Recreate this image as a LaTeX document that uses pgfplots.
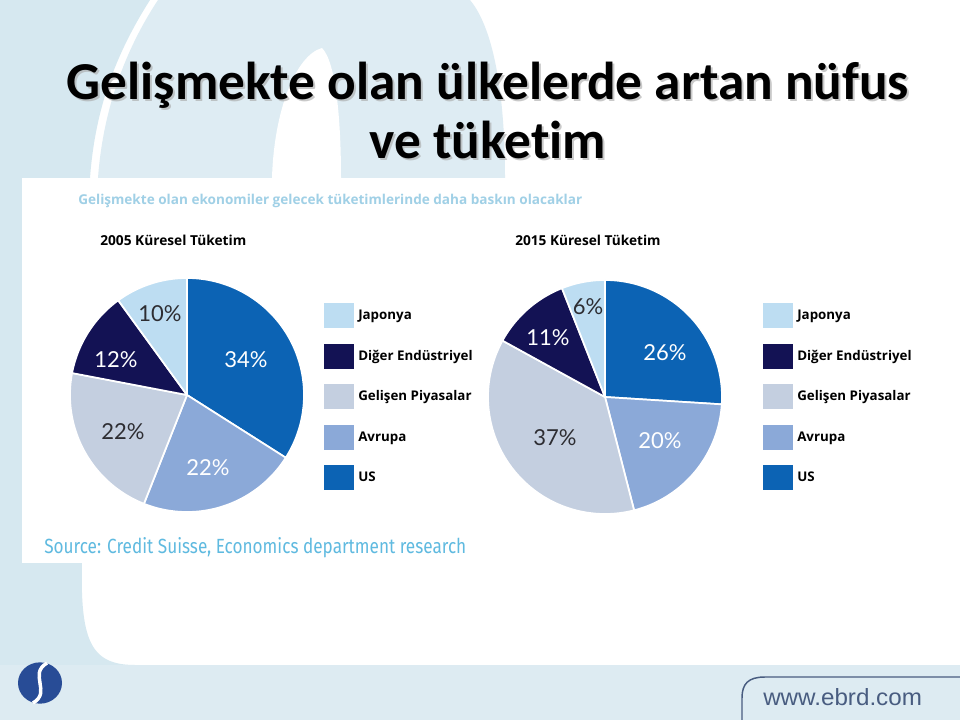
\documentclass[border=0pt]{standalone}
\usepackage{fontspec}
\setmainfont{Carlito}[Ligatures=NoCommon]
\newfontfamily\lato{Lato}
\newfontfamily\osans{Open Sans}
\newfontfamily\arialf{Liberation Sans}
\newfontfamily\fira{Fira Sans}
\usepackage{graphicx}
\usepackage{pgfplots}
\usepackage{pgfplotstable}
\pgfplotsset{compat=1.18}

\definecolor{cUS}{RGB}{12,99,180}
\definecolor{cAV}{RGB}{139,169,216}
\definecolor{cGP}{RGB}{196,207,224}
\definecolor{cDE}{RGB}{19,18,84}
\definecolor{cJP}{RGB}{189,221,242}
\definecolor{bgA}{RGB}{214,232,240}
\definecolor{bgB}{RGB}{222,236,243}
\definecolor{band}{RGB}{221,235,242}
\definecolor{hdr}{RGB}{160,208,230}
\definecolor{src}{RGB}{95,186,224}
\definecolor{url}{RGB}{72,92,128}
\definecolor{logo}{RGB}{40,76,150}
\definecolor{lbl}{RGB}{45,45,50}

% 2005 global consumption shares (%), clockwise from 12 o'clock
\pgfplotstableread{
name val col
US 34 cUS
Avrupa 22 cAV
Gelisen 22 cGP
Diger 12 cDE
Japonya 10 cJP
}\tabA
% 2015 global consumption shares (%)
\pgfplotstableread{
name val col
US 26 cUS
Avrupa 20 cAV
Gelisen 37 cGP
Diger 11 cDE
Japonya 6 cJP
}\tabB

\newcommand\drawpie[4]{%
  \def\cum{0}%
  \pgfplotsforeachungrouped \i in {0,...,4}{%
    \pgfplotstablegetelem{\i}{val}\of{#1}\let\pval\pgfplotsretval
    \pgfplotstablegetelem{\i}{col}\of{#1}\let\pcol\pgfplotsretval
    \pgfmathsetmacro\pa{\cum*3.6}%
    \pgfmathsetmacro\cum{\cum+\pval}%
    \pgfmathsetmacro\pb{\cum*3.6}%
    \edef\doplot{\noexpand\addplot[fill=\pcol, draw=white, line width=1.3pt, line join=round, domain=\pa:\pb, samples=90, variable=\noexpand\t] ({#2+#4*sin(\noexpand\t)},{#3-#4*cos(\noexpand\t)}) -- (axis cs:#2,#3) -- cycle;}%
    \doplot
  }%
}

\pgfplotsset{
  slide/.style={
    width=720pt, height=540pt, scale only axis,
    xmin=0, xmax=960, ymin=0, ymax=720, y dir=reverse,
    hide axis, at={(0,0)}, anchor=south west,
    reverse legend,
    legend cell align=left,
    legend image code/.code={\fill[##1,draw=none] (0pt,-9.4pt) rectangle (22.5pt,9.4pt);},
    legend style={draw=none, fill=none, inner sep=0pt, row sep=11.6pt, column sep=3pt,
      font=\osans\bfseries\fontsize{10}{12}\selectfont, text=black,
      nodes={inner sep=0pt}},
  },
}

\begin{document}
\begin{tikzpicture}
\useasboundingbox (0,0) rectangle (720pt,540pt);
\clip (0,0) rectangle (720pt,540pt);
\begin{axis}[slide,
  legend style={at={(axis description cs:0.3375,0.5792)}, anchor=north west}]
  % background
  \fill[white] (0,0) rectangle (960,720);
  \fill[bgA] (0,0) -- (150,0) .. controls (115,55) and (95,110) .. (90,178) -- (82,560) .. controls (80,640) and (90,665) .. (135,665) -- (0,665) -- cycle;
  \fill[bgB] (158,0) -- (470,0) .. controls (495,30) and (505,100) .. (505,178) -- (98,178) .. controls (103,110) and (125,50) .. (158,0) -- cycle;
  \fill[white] (272,178) .. controls (274,110) and (296,55) .. (322,48) .. controls (336,62) and (341,120) .. (341,178) -- cycle;
  \fill[white] (22,178) rectangle (960,563);
  \fill[band] (0,665) rectangle (960,720);
  % logo
  \fill[logo] (40,683) ellipse [x radius=16.5pt, y radius=15.5pt];
  \draw[white, line width=2.6pt] (47,663) .. controls (28,674) and (52,692) .. (33,703);
  % url frame
  \draw[url, line width=1.1pt] (742,722) -- (742,698) .. controls (742,684) and (748,677) .. (765,677) -- (962,677);
  \node[anchor=base west, inner sep=0pt] at (763,705) {\resizebox{119pt}{12.75pt}{\arialf\color{url}www.ebrd.com}};
  % title with shadow
  \node[anchor=base, inner sep=0pt, text=gray!70, opacity=0.6, font=\bfseries\fontsize{40}{48}\selectfont] at (490,102) {Gelişmekte olan ülkelerde artan nüfus};
  \node[anchor=base, inner sep=0pt, text=gray!70, opacity=0.6, font=\bfseries\fontsize{40}{48}\selectfont] at (490,161) {ve tüketim};
  \node[anchor=base, inner sep=0pt, text=black, font=\bfseries\fontsize{40}{48}\selectfont] at (488,100) {Gelişmekte olan ülkelerde artan nüfus};
  \node[anchor=base, inner sep=0pt, text=black, font=\bfseries\fontsize{40}{48}\selectfont] at (488,159) {ve tüketim};
  % chart texts
  \node[anchor=base west, inner sep=0pt] at (78,205) {\resizebox{378pt}{!}{\osans\bfseries\color{hdr}Gelişmekte olan ekonomiler gelecek tüketimlerinde daha baskın olacaklar}};
  \node[anchor=base west, inner sep=0pt] at (100,246) {\resizebox{109.5pt}{!}{\osans\bfseries 2005 Küresel Tüketim}};
  \node[anchor=base west, inner sep=0pt] at (515,246) {\resizebox{109pt}{!}{\osans\bfseries 2015 Küresel Tüketim}};
  \node[anchor=base west, inner sep=0pt] at (44,553) {\resizebox{316.5pt}{12pt}{\fira\color{src}Source: Credit Suisse, Economics department research}};
  % pie 2005
  \drawpie{\tabA}{187}{395}{117}
  \legend{US,Avrupa,Gelişen Piyasalar,Diğer Endüstriyel,Japonya}
  \begin{scope}[font=\lato\fontsize{16.5}{18}\selectfont]
  \node[text=lbl] at (160,314) {10\%};
  \node[text=white] at (116,360) {12\%};
  \node[text=white] at (246,360) {34\%};
  \node[text=lbl] at (123,432) {22\%};
  \node[text=white] at (208,468) {22\%};
  \end{scope}
\end{axis}
\begin{axis}[slide,
  legend style={at={(axis description cs:0.7948,0.5792)}, anchor=north west}]
  \drawpie{\tabB}{605}{397}{117}
  \legend{US,Avrupa,Gelişen Piyasalar,Diğer Endüstriyel,Japonya}
  \begin{scope}[font=\lato\fontsize{16.5}{18}\selectfont]
  \node[text=lbl] at (588,307) {6\%};
  \node[text=white] at (548,338) {11\%};
  \node[text=white] at (665,353) {26\%};
  \node[text=lbl] at (555,438) {37\%};
  \node[text=white] at (660,441) {20\%};
  \end{scope}
\end{axis}
\end{tikzpicture}
\end{document}
